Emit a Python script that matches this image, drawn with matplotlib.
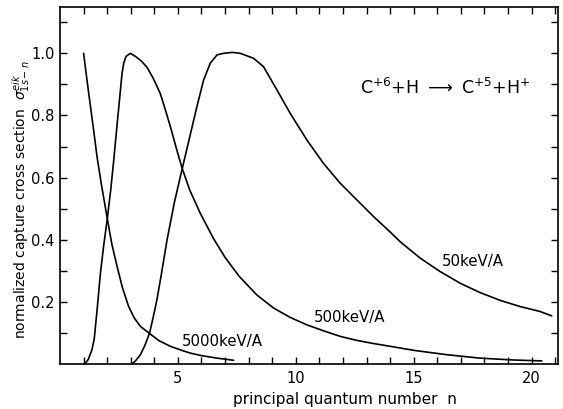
import numpy as np
import matplotlib
matplotlib.use("Agg")
import matplotlib.pyplot as plt
from matplotlib.ticker import FixedLocator

# curves (n, normalized cross section)
n_5000 = [1.0, 1.15, 1.29, 1.43, 1.57, 1.75, 2.0, 2.2, 2.42, 2.65, 2.91, 3.15, 3.41, 3.8,
          4.2, 4.68, 5.2, 5.53, 6.0, 6.65, 7.36]
s_5000 = [1.0, 0.91, 0.83, 0.75, 0.667, 0.58, 0.47, 0.385, 0.314, 0.245, 0.185, 0.148, 0.121, 0.098,
          0.075, 0.057, 0.043, 0.035, 0.027, 0.019, 0.012]

n_500 = [1.05, 1.2, 1.35, 1.45, 1.58, 1.71, 1.85, 2.0, 2.15, 2.28, 2.42, 2.56, 2.63, 2.7, 2.8,
         2.98, 3.2, 3.45, 3.69, 3.95, 4.25, 4.5, 4.68, 4.95, 5.17, 5.5, 5.95, 6.5, 7.0, 7.6,
         8.35, 9.06, 9.76, 10.47, 11.17, 11.88, 12.59, 13.29, 14.0, 15.0, 16.4, 17.8, 19.2, 20.43]
s_500 = [0.0, 0.015, 0.045, 0.08, 0.18, 0.29, 0.38, 0.465, 0.56, 0.657, 0.77, 0.88, 0.935, 0.968, 0.99,
         1.0, 0.99, 0.975, 0.955, 0.92, 0.871, 0.81, 0.764, 0.69, 0.632, 0.56, 0.485, 0.405, 0.343, 0.282,
         0.222, 0.180, 0.150, 0.126, 0.107, 0.089, 0.076, 0.066, 0.057, 0.044, 0.030, 0.019, 0.013, 0.010]

n_50 = [3.05, 3.2, 3.41, 3.6, 3.8, 3.95, 4.11, 4.3, 4.54, 4.85, 5.17, 5.53, 5.81, 6.09, 6.37, 6.66,
        6.94, 7.3, 7.64, 8.21, 8.63, 9.2, 9.76, 10.47, 11.17, 11.88, 12.59, 13.29, 14.0, 14.42,
        15.27, 16.11, 16.97, 17.81, 18.66, 19.51, 20.36, 20.85]
s_50 = [0.0, 0.01, 0.03, 0.06, 0.10, 0.15, 0.207, 0.29, 0.40, 0.52, 0.625, 0.74, 0.83, 0.914, 0.968, 0.995,
        1.0, 1.003, 1.0, 0.984, 0.957, 0.882, 0.807, 0.721, 0.646, 0.582, 0.528, 0.475, 0.425, 0.394,
        0.341, 0.298, 0.260, 0.230, 0.205, 0.185, 0.169, 0.155]

labels = ["5000keV/A", "500keV/A", "50keV/A"]
label_pos = [(5.15, 0.072), (10.78, 0.15), (16.2, 0.33)]

plt.rcParams['font.family'] = ['DejaVu Sans']

fig = plt.figure(figsize=(5.63, 4.09), dpi=100)
ax = fig.add_axes([0.1066, 0.110, 0.885, 0.8736])

for xs, ys in [(n_5000, s_5000), (n_500, s_500), (n_50, s_50)]:
    ax.plot(xs, ys, color='black', lw=1.2, solid_joinstyle='round', solid_capstyle='round')

for txt, (x, y) in zip(labels, label_pos):
    ax.text(x, y, txt, fontsize=10.8, va='center', ha='left')

ax.text(12.73, 0.89, r"C$^{+6}$+H $\longrightarrow$ C$^{+5}$+H$^{+}$", fontsize=12.5,
        va='center', ha='left')

ax.set_xlim(0, 21.13)
ax.set_ylim(0, 1.15)

ax.xaxis.set_major_locator(FixedLocator([5, 10, 15, 20]))
ax.xaxis.set_minor_locator(FixedLocator([i for i in range(1, 22) if i % 5 != 0]))
ax.yaxis.set_major_locator(FixedLocator([0.2, 0.4, 0.6, 0.8, 1.0]))
ax.yaxis.set_minor_locator(FixedLocator([0.1, 0.3, 0.5, 0.7, 0.9, 1.1]))
ax.yaxis.set_major_formatter(plt.FuncFormatter(lambda v, p: f"{v:.1f}"))

ax.tick_params(which='both', direction='in', top=True, right=True, length=5, width=1.0,
               labelsize=10.5)
ax.tick_params(axis='x', pad=5)
ax.tick_params(axis='y', pad=4)
for sp in ax.spines.values():
    sp.set_linewidth(1.2)

ax.set_xlabel("principal quantum number  n", fontsize=11)
ax.xaxis.set_label_coords(0.572, -0.078)
ax.set_ylabel(r"normalized capture cross section  $\sigma^{eik}_{1s-n}$", fontsize=10)
ax.yaxis.set_label_coords(-0.056, 0.459)

fig.savefig("out.png", dpi=100)
